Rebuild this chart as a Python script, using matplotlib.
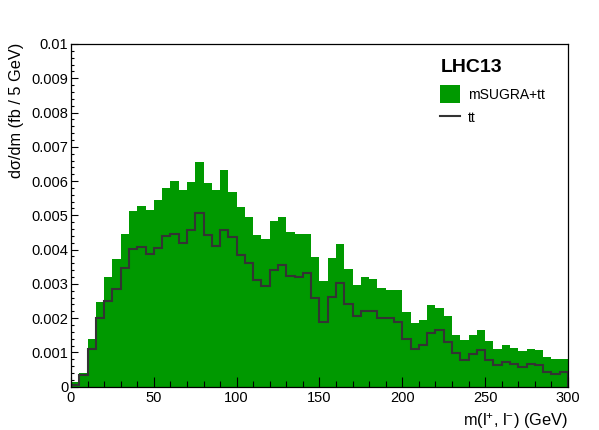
import numpy as np
import matplotlib
matplotlib.use("Agg")
import matplotlib.pyplot as plt
from matplotlib.patches import Patch
from matplotlib.lines import Line2D
from matplotlib.ticker import MultipleLocator, FuncFormatter

plt.rcParams['font.family'] = ['Liberation Sans', 'DejaVu Sans']
plt.rcParams['mathtext.fontset'] = 'custom'
plt.rcParams['mathtext.rm'] = 'Liberation Sans'
plt.rcParams['mathtext.it'] = 'Liberation Sans:italic'

# 5 GeV bins from 0 to 300
edges = np.arange(0, 305, 5)

# mSUGRA+tt (units of 1e-3 fb / 5 GeV)
sugra_tt = [0.15, 0.41, 1.38, 2.46, 3.21, 3.72, 4.45, 5.14, 5.28, 5.17,
            5.45, 5.79, 6.01, 5.73, 5.97, 6.56, 5.95, 5.73, 6.33, 5.67,
            5.24, 4.95, 4.43, 4.30, 4.84, 4.96, 4.51, 4.47, 4.47, 3.77,
            3.07, 3.75, 4.15, 3.43, 2.97, 3.21, 3.14, 2.88, 2.83, 2.83,
            2.19, 1.87, 1.96, 2.37, 2.30, 2.06, 1.51, 1.37, 1.51, 1.64,
            1.34, 1.09, 1.23, 1.14, 1.04, 1.11, 1.08, 0.86, 0.80, 0.82]

# tt only
tt = [0.05, 0.34, 1.09, 2.00, 2.50, 2.85, 3.45, 4.03, 4.07, 3.86,
      4.05, 4.40, 4.46, 4.20, 4.58, 5.07, 4.42, 4.12, 4.58, 4.37,
      3.85, 3.62, 3.11, 2.95, 3.40, 3.56, 3.22, 3.19, 3.33, 2.58,
      1.90, 2.61, 3.02, 2.40, 2.05, 2.22, 2.22, 2.00, 2.00, 1.90,
      1.38, 1.10, 1.23, 1.57, 1.64, 1.30, 0.97, 0.77, 0.94, 1.07,
      0.79, 0.64, 0.71, 0.65, 0.58, 0.66, 0.62, 0.43, 0.38, 0.44]

sugra_tt = np.array(sugra_tt) * 1e-3
tt = np.array(tt) * 1e-3

green = '#009900'
dark = '#333333'

fig = plt.figure(figsize=(5.99, 4.30), dpi=100)
ax = fig.add_axes([0.1185, 0.1007, 0.8297, 0.7970])

ax.stairs(sugra_tt, edges, fill=True, color=green, lw=0)
ax.stairs(tt, edges, color=dark, lw=1.5)

ax.set_xlim(0, 300)
ax.set_ylim(0, 0.01)

ax.xaxis.set_major_locator(MultipleLocator(50))
ax.xaxis.set_minor_locator(MultipleLocator(10))
ax.yaxis.set_major_locator(MultipleLocator(0.001))
ax.yaxis.set_minor_locator(MultipleLocator(0.0002))
ax.yaxis.set_major_formatter(FuncFormatter(lambda v, p: '%g' % round(v, 4)))

ax.tick_params(axis='x', which='major', direction='in', length=7.5, width=0.8,
               labelsize=10.5, pad=3)
ax.tick_params(axis='x', which='minor', direction='in', length=4, width=0.8)
ax.tick_params(axis='y', which='major', direction='in', length=5, width=0.8,
               labelsize=10.5, pad=2)
ax.tick_params(axis='y', which='minor', direction='in', length=2.5, width=0.8)
for s in ax.spines.values():
    s.set_linewidth(0.9)

# axis titles sit at the top / right end like ROOT
ax.set_ylabel('d\u03c3/dm (fb / 5 GeV)', fontsize=11.8)
ax.yaxis.label.set(ha='right', va='center', rotation_mode='anchor')
ax.yaxis.set_label_coords(-0.109, 1.003)
ax.set_xlabel('m(l$^{+}$, l$^{-}$) (GeV)', fontsize=11.8)
ax.xaxis.label.set(ha='right', va='top')
ax.xaxis.set_label_coords(1.0, -0.072)

ax.text(0.745, 0.93, 'LHC13', transform=ax.transAxes, fontsize=14,
        fontweight='bold', va='center', ha='left')

handles = [Patch(facecolor=green, edgecolor=green, lw=0),
           Line2D([], [], color=dark, lw=1.5)]
ax.legend(handles, ['mSUGRA+tt', 'tt'], loc='upper left',
          bbox_to_anchor=(0.743, 0.88), frameon=False, fontsize=10,
          handlelength=1.45, handleheight=1.6, handletextpad=0.55,
          labelspacing=0.42, borderaxespad=0, borderpad=0)

fig.savefig('out.png', dpi=100)
